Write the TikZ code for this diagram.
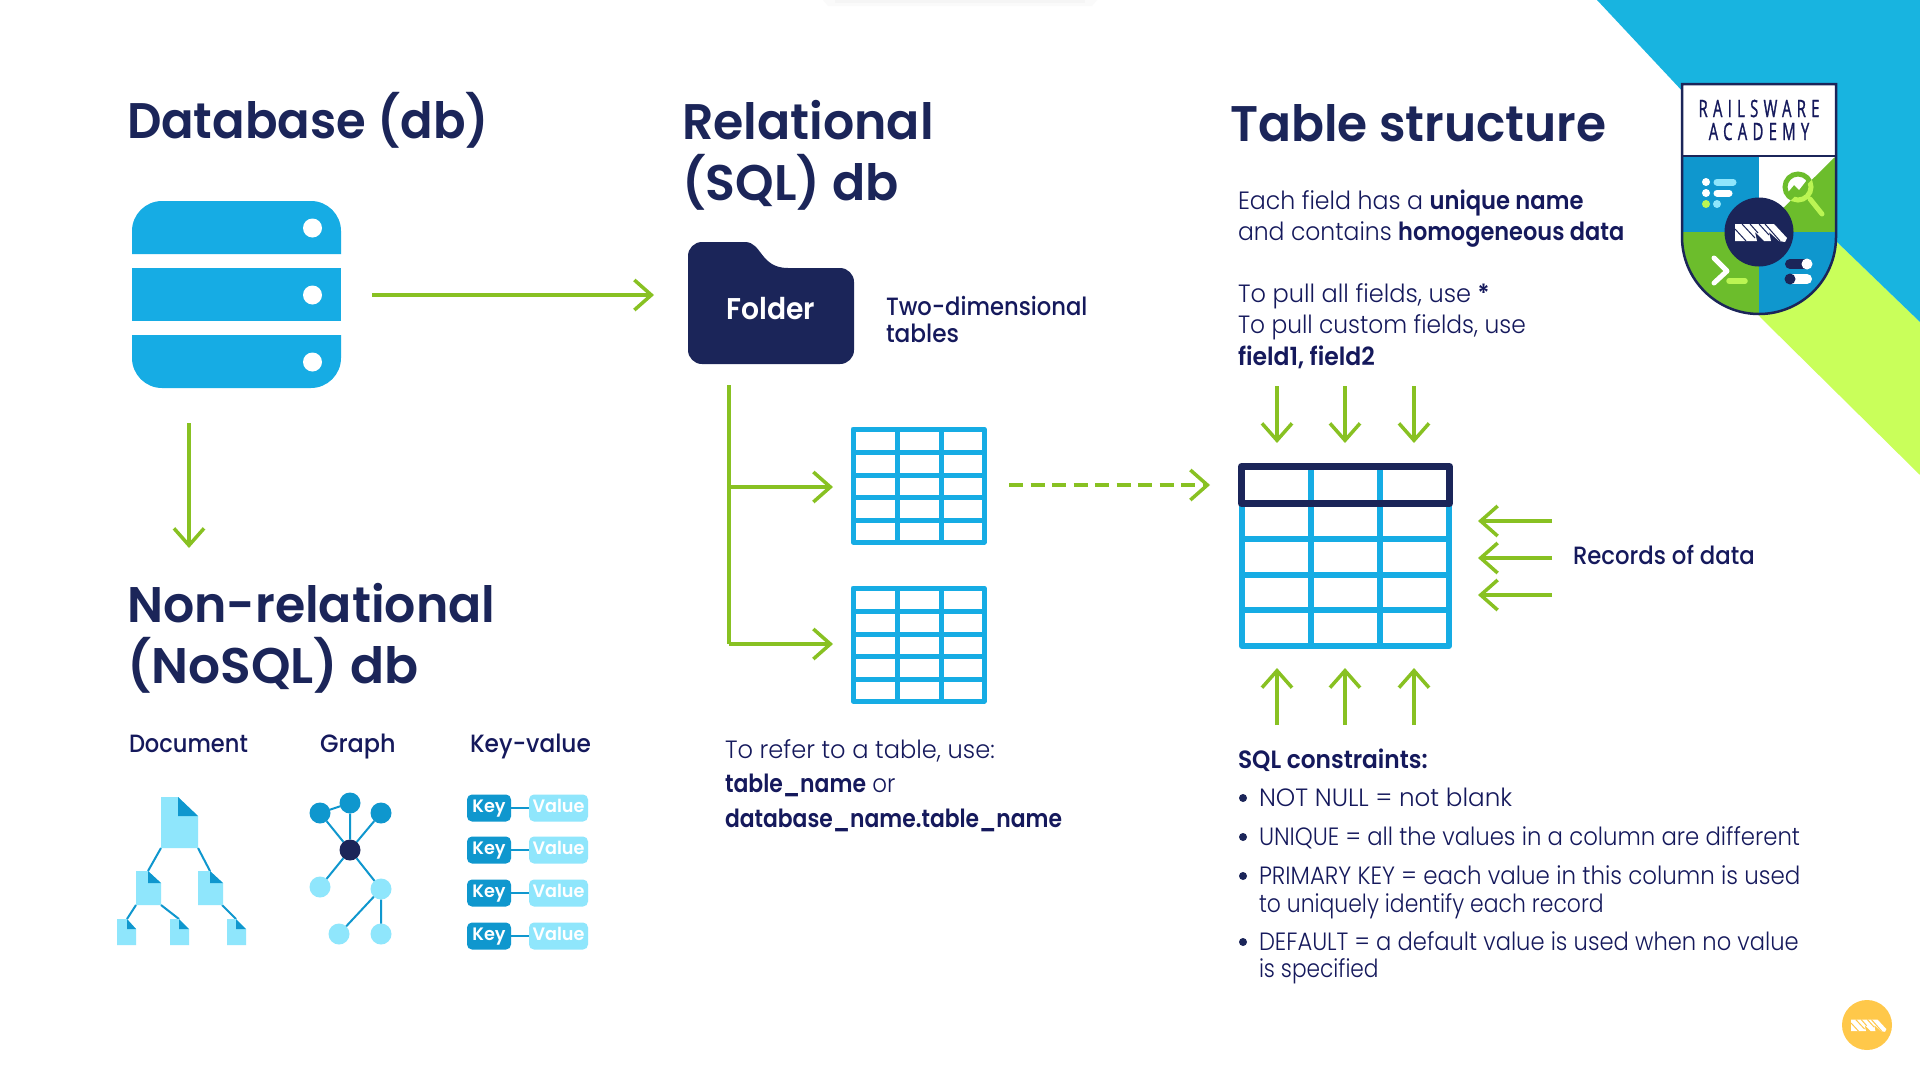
\documentclass[tikz,border=0pt]{standalone}
\usepackage{fontspec}
\usepackage{graphicx}
\usetikzlibrary{arrows.meta}
\setmainfont[FakeStretch=0.93,BoldFont={Poppins SemiBold},BoldFeatures={FakeStretch=0.89}]{Poppins Light}
\newfontfamily\tfont[FakeStretch=0.98]{Poppins SemiBold}
\newfontfamily\mfont[FakeStretch=0.93]{Poppins Medium}
\newfontfamily\badgefont[LetterSpace=22,FakeStretch=0.62,FakeBold=1]{Open Sans}
\newcommand{\sx}[2]{\scalebox{#1}[1]{#2}}
\definecolor{navy}{HTML}{1B2559}
\definecolor{ink}{HTML}{15195C}
\definecolor{sky}{HTML}{16ACE4}
\definecolor{deep}{HTML}{0F97CE}
\definecolor{pale}{HTML}{8FE6FC}
\definecolor{grn}{HTML}{88C122}
\definecolor{leaf}{HTML}{6CBD2C}
\definecolor{lime}{HTML}{C9FF5A}
\definecolor{cyanbg}{HTML}{18B4E0}
\definecolor{amber}{HTML}{FFC84A}
\tikzset{
  every node/.style={inner sep=0pt,outer sep=0pt},
  flow/.style={draw=grn,line width=3.5pt,-{Straight Barb[length=17pt,width=30pt,line width=3.5pt]}},
  title/.style={anchor=base west,text=navy,font=\fontsize{50}{60}\selectfont\tfont},
  body/.style={anchor=base west,text=ink,font=\fontsize{25}{30}\selectfont},
  sub/.style={anchor=base west,text=ink,font=\fontsize{25}{30}\selectfont\mfont},
  dot/.style={circle,minimum size=21pt},
  kv/.style={rounded corners=5pt,minimum height=27pt,text height=13pt,text depth=4pt,text=white,font=\fontsize{18}{22}\selectfont\tfont},
  link/.style={draw=deep,line width=2pt},
}
\newcommand{\rwlogo}[4]{% cx cy scale colour
  \begin{scope}[shift={(#1,#2)},scale=#3]
    \fill[white] (-25,-8) -- (14,-8) -- (27,6) -- (25,10) -- (19,9) -- (9,0) -- (11,9) -- (4,9) -- (-5,0) -- (-3,9) -- (-25,9) -- cycle;
    \draw[line width=1pt,draw=#4] (-25,-3) -- (-14,9) (-18,-8) -- (-5,6) (-10,-8) -- (-2,1) (-1,-8) -- (9,3) (5,-8) -- (20,9);
  \end{scope}
}
\begin{document}
\begin{tikzpicture}[x=1pt,y=-1pt]
\useasboundingbox (0,0) rectangle (1920,1080);
\fill[white] (0,0) rectangle (1920,1080);
% background
\fill[lime] (1700,180) -- (1837,242) -- (1920,322) -- (1920,475) -- (1760,317) -- cycle;
\fill[cyanbg] (1597,0) -- (1920,0) -- (1920,322) -- (1837,242) -- (1700,110) -- cycle;
\fill[black!2] (823,0) -- (1097,0) -- (1092,6) -- (828,6) -- cycle;
\fill[black!4] (835,0) rectangle (1085,3);
% ---- titles
\node[title] (t1) at (127,138.5) {\sx{0.98}{Database (db)}};
\node[title] (t2a) at (682,139.5) {Relational};
\node[title] (t2b) at (682,200) {(SQL) db};
\node[title] (t3) at (1230,141) {\sx{0.993}{Table structure}};
\node[title] (t4a) at (127,622) {Non-relational};
\node[title] (t4b) at (127,683) {\sx{1.026}{(NoSQL) db}};
% ---- server
\fill[sky] (132,254) -- (132,231) .. controls (132,214.5) and (145.5,201) .. (162,201) -- (311,201) .. controls (327.5,201) and (341,214.5) .. (341,231) -- (341,254) -- cycle;
\fill[sky] (132,268) rectangle (341,321);
\fill[sky] (132,335) -- (341,335) -- (341,358) .. controls (341,374.5) and (327.5,388) .. (311,388) -- (162,388) .. controls (145.5,388) and (132,374.5) .. (132,358) -- cycle;
\foreach \yy in {228,295,362} \fill[white] (312.5,\yy) circle[radius=9.5];
\coordinate (a1s) at (372,295); \coordinate (a1e) at (654,295);
\draw[flow] (a1s) -- (a1e);
\coordinate (a2s) at (189,423); \coordinate (a2e) at (189,548);
\draw[flow] (a2s) -- (a2e);
% ---- folder
\fill[navy] (702,364) .. controls (694.3,364) and (688,357.7) .. (688,350) -- (688,256) .. controls (688,248.3) and (694.3,242) .. (702,242) -- (745,242) .. controls (762,242) and (760,268) .. (788,268) -- (840,268) .. controls (847.7,268) and (854,274.3) .. (854,282) -- (854,350) .. controls (854,357.7) and (847.7,364) .. (840,364) -- cycle;
\node[text=white,font=\fontsize{30}{36}\selectfont\tfont] (folder) at (771,309) {\sx{0.96}{Folder}};
\node[sub] (two1) at (886,315) {\sx{0.975}{Two-dimensional}};
\node[sub] (two2) at (886,342) {tables};
% ---- tables
\foreach \dy in {0,159}{
  \draw[sky,line width=5pt,line join=round] (853,429+\dy) rectangle (984,542+\dy);
  \foreach \xx in {897,941} \draw[sky,line width=5pt] (\xx,429+\dy) -- (\xx,542+\dy);
  \foreach \yy in {452,475,497,520} \draw[sky,line width=5pt] (853,\yy+\dy) -- (984,\yy+\dy);
}
\coordinate (tr) at (729,385); \coordinate (j1) at (729,487); \coordinate (j2) at (729,644);
\coordinate (e1) at (833,487); \coordinate (e2) at (833,644);
\draw[draw=grn,line width=3.5pt] (tr) -- (j2);
\draw[flow] (j1) -- (e1);
\draw[flow] (j2) -- (e2);
\coordinate (ds) at (1009,485); \coordinate (de) at (1210,485);
\draw[flow,dash pattern=on 14pt off 7.5pt] (ds) -- (de);
\node[body] (ref1) at (725,758) {\sx{1.038}{To refer to a table, use:}};
\node[body] (ref2) at (725,792) {\sx{0.986}{\textbf{table\_name} or}};
\node[body] (ref3) at (725,827) {\sx{0.982}{\textbf{database\_name.table\_name}}};
% ---- big table
\draw[sky,line width=6pt,line join=round] (1242,485) rectangle (1449,646);
\foreach \xx in {1311,1380} \draw[sky,line width=6pt] (\xx,466) -- (\xx,646);
\foreach \yy in {539,575,610} \draw[sky,line width=6pt] (1242,\yy) -- (1449,\yy);
\fill[white] (1245,470) rectangle (1446,500);
\foreach \xx in {1311,1380} \draw[sky,line width=6pt] (\xx,466) -- (\xx,504);
\draw[navy,line width=7pt,line join=round] (1241.5,466.5) rectangle (1449.5,503.5);
\foreach \xx/\nn in {1277/a,1345/b,1414/c}{
  \coordinate (d\nn s) at (\xx,386); \coordinate (d\nn e) at (\xx,443);
  \draw[flow] (d\nn s) -- (d\nn e);
  \coordinate (u\nn s) at (\xx,725); \coordinate (u\nn e) at (\xx,668);
  \draw[flow] (u\nn s) -- (u\nn e);
}
\foreach \yy/\nn in {521/a,558/b,595/c}{
  \coordinate (l\nn s) at (1552,\yy); \coordinate (l\nn e) at (1478,\yy);
  \draw[flow] (l\nn s) -- (l\nn e);
}
\node[sub] (rec) at (1573,564) {\sx{0.98}{Records of data}};
% ---- right text
\node[body] (f1) at (1238,209) {\sx{1.018}{Each field has a \textbf{unique name}}};
\node[body] (f2) at (1238,240) {\sx{1.01}{and contains \textbf{homogeneous data}}};
\node[body] (p1) at (1238,302) {\sx{1.035}{To pull all fields, use \textbf{*}}};
\node[body] (p2) at (1238,333) {\sx{1.004}{To pull custom fields, use}};
\node[body] (p3) at (1238,365) {\sx{1.057}{\textbf{field1, field2}}};
\node[body] (sq) at (1238,768) {\sx{1.047}{\textbf{SQL constraints:}}};
\foreach \yy in {798,837,876,942} \fill[navy] (1243,\yy) circle[radius=4];
\node[body] (c1) at (1259,806) {\sx{1.06}{NOT NULL = not blank}};
\node[body] (c2) at (1259,845) {\sx{0.98}{UNIQUE = all the values in a column are different}};
\node[body] (c3) at (1259,884) {\sx{0.987}{PRIMARY KEY = each value in this column is used}};
\node[body] (c3b) at (1259,912) {\sx{0.943}{to uniquely identify each record}};
\node[body] (c4) at (1259,950) {\sx{0.973}{DEFAULT = a default value is used when no value}};
\node[body] (c4b) at (1259,977) {\sx{0.933}{is specified}};
% ---- NoSQL headings
\node[sub] (h1) at (129,752) {\sx{0.97}{Document}};
\node[sub] (h2) at (320,752) {\sx{1.03}{Graph}};
\node[sub] (h3) at (470,752) {Key-value};
% ---- document tree
\draw[link] (161,848) -- (148,871) (198,848) -- (210,871) (136,905) -- (127,919) (161,905) -- (179,919) (222,905) -- (236,919);
\foreach \xa/\xb/\xf/\ya/\yb/\yf in {161/198/178/797/848/816, 136/161/148/871/905/883, 198/223/210/871/905/883, 117/136/127/919/945/929, 170/189/179/919/945/929, 227/246/236/919/945/929}{
  \fill[pale] (\xa,\ya) -- (\xf,\ya) -- (\xb,\yf) -- (\xb,\yb) -- (\xa,\yb) -- cycle;
  \fill[deep] (\xf,\ya) -- (\xb,\yf) -- (\xf,\yf) -- cycle;
}
% ---- graph
\node[dot,fill=deep] (g1) at (320,813) {};
\node[dot,fill=deep] (g2) at (350,803) {};
\node[dot,fill=deep] (g3) at (381,813) {};
\node[dot,fill=navy] (g0) at (350,850) {};
\node[dot,fill=pale] (g4) at (320,887) {};
\node[dot,fill=pale] (g5) at (381,889) {};
\node[dot,fill=pale] (g6) at (339,934) {};
\node[dot,fill=pale] (g7) at (381,934) {};
\draw[link] (g1) -- (g2) (g1) -- (g0) (g2) -- (g0) (g3) -- (g0) (g4) -- (g0) (g5) -- (g0) (g5) -- (g6) (g5) -- (g7);
% ---- key value
\foreach \yy/\nn in {808/a,850/b,893/c,936/d}{
  \node[kv,fill=deep,minimum width=44pt] (k\nn) at (489,\yy) {Key};
  \node[kv,fill=pale,minimum width=59pt] (v\nn) at (558.5,\yy) {Value};
  \draw[link] (k\nn) -- (v\nn);
}
% ---- badge
\begin{scope}
  \clip (1682,84) -- (1836,84) -- (1836,237) .. controls (1836,279.5) and (1801.5,314) .. (1759,314) .. controls (1716.5,314) and (1682,279.5) .. (1682,237) -- cycle;
  \fill[white] (1682,84) rectangle (1836,156);
  \fill[deep] (1682,156) rectangle (1759,232);
  \fill[white] (1759,156) rectangle (1836,232);
  \fill[leaf] (1836,156) -- (1836,232) -- (1759,232) -- cycle;
  \fill[leaf] (1682,232) rectangle (1759,320);
  \fill[deep] (1759,232) rectangle (1836,320);
\end{scope}
\begin{scope}
  \clip (1798,187) circle[radius=13];
  \fill[leaf] (1780,170) rectangle (1816,205);
  \fill[white] (1783,197) -- (1789,191) -- (1794,185) -- (1799,190) -- (1806,181) -- (1812,172) -- (1780,170) -- cycle;
\end{scope}
\begin{scope}
  \clip (1759,156) -- (1836,156) -- (1759,232) -- cycle;
  \draw[leaf,line width=5pt] (1798,187) circle[radius=13];
\end{scope}
\begin{scope}
  \clip (1836,156) -- (1836,232) -- (1759,232) -- cycle;
  \draw[lime!85!leaf,line width=5pt] (1798,187) circle[radius=13];
\end{scope}
\draw[lime!85!leaf,line width=5pt,line cap=round] (1810,199) -- (1822,214);
\draw[navy,line width=2.5pt] (1682,84) -- (1836,84) -- (1836,237) .. controls (1836,279.5) and (1801.5,314) .. (1759,314) .. controls (1716.5,314) and (1682,279.5) .. (1682,237) -- cycle;
\draw[navy,line width=2.5pt] (1682,156) -- (1836,156);
\node[text=ink,font=\fontsize{24}{24}\selectfont\badgefont] (b1) at (1759,108.5) {RAILSWARE};
\node[text=ink,font=\fontsize{24}{24}\selectfont\badgefont] (b2) at (1759,131.5) {ACADEMY};
\fill[white] (1706,182) circle[radius=4] (1706,193) circle[radius=4];
\fill[lime!85!leaf] (1706,204) circle[radius=4];
\fill[pale] (1717,204) circle[radius=4];
\draw[pale,line width=7pt,line cap=round] (1717,182) -- (1733,182);
\draw[white,line width=7pt,line cap=round] (1717,193) -- (1729,193);
\draw[white,line width=5pt,line cap=round,line join=round] (1714,258) -- (1727,271) -- (1714,283);
\draw[lime!85!leaf,line width=5.5pt,line cap=round] (1729,281) -- (1745,281);
\draw[navy,line width=10pt,line cap=round] (1790,264) -- (1807,264);
\fill[white] (1807,264) circle[radius=5.5];
\draw[white,line width=10pt,line cap=round] (1790,279) -- (1807,279);
\fill[navy] (1790,279) circle[radius=5.5];
\fill[navy] (1759,232) circle[radius=34.5];
\rwlogo{1760}{232}{1}{navy}
% ---- corner mark
\fill[amber] (1867,1025) circle[radius=25];
\rwlogo{1868}{1025}{0.68}{amber}
\end{tikzpicture}
\end{document}
